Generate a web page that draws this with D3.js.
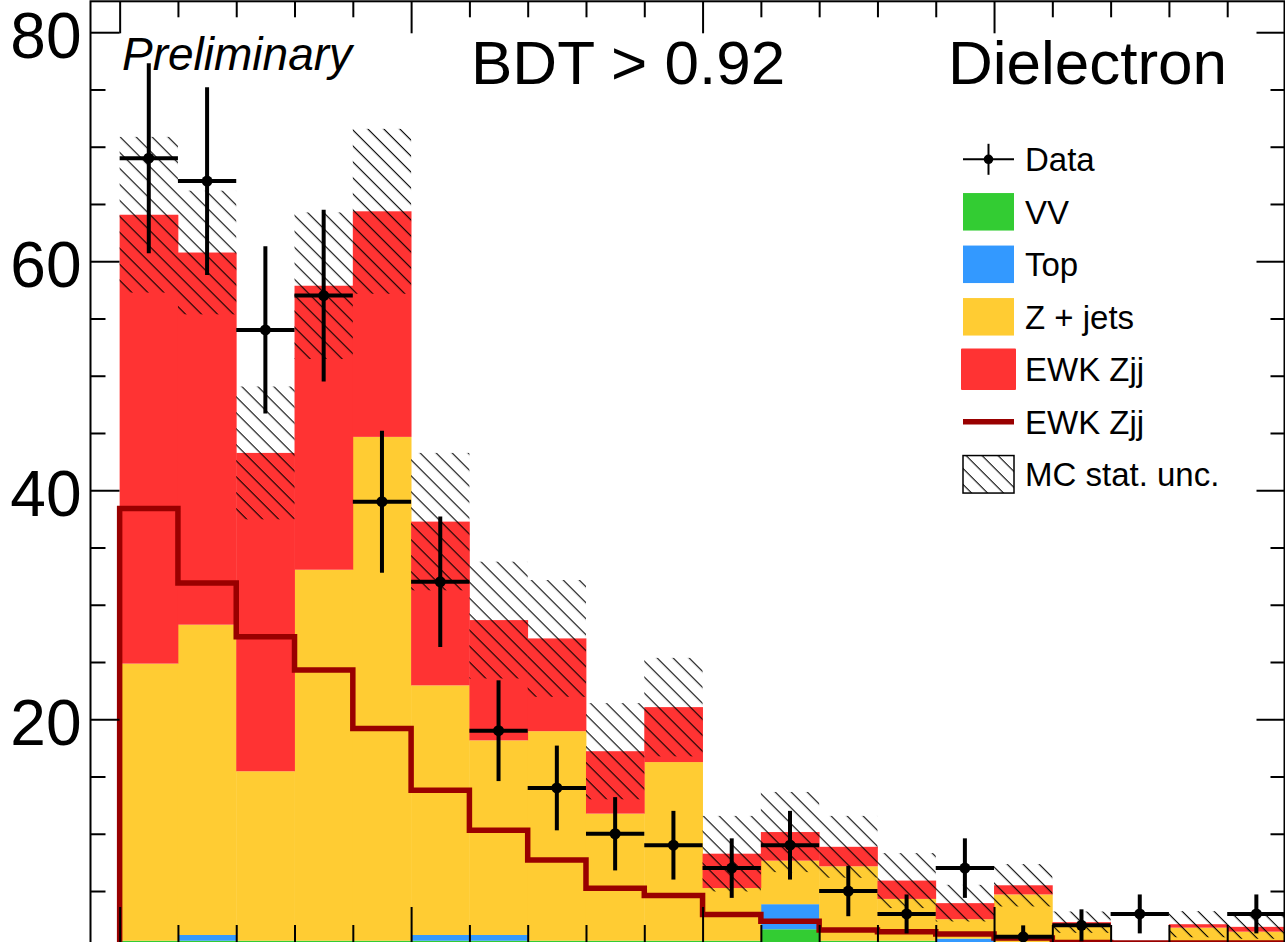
<!DOCTYPE html>
<html>
<head>
<meta charset="utf-8">
<script src="https://cdn.jsdelivr.net/npm/d3@7"></script>
<style>
  body { margin: 0; background: #fff; }
  svg { display: block; font-family: "Liberation Sans", Arial, sans-serif; }
</style>
</head>
<body>
<script>
// 20 bins, values
var dataCounts = [69, 67, 54, 57, 39, 32, 19, 14, 10, 9, 7, 9, 5, 3, 7, 1, 2, 3, 0, 3];
var dataErr    = [8.3, 8.2, 7.3, 7.5, 6.2, 5.7, 4.4, 3.7, 3.2, 3.0, 2.6, 3.0, 2.2, 1.7, 2.6, 1.0, 1.4, 1.7, 0, 1.7];

var vv     = [0.66, 0.66, 0.66, 0.66, 0.66, 0.66, 0.66, 0.66, 0.66, 0.66, 0.66, 1.66, 0.66, 0.66, 0, 0, 0, 0, 0, 0];
var topBkg = [0, 0.5, 0, 0, 0, 0.5, 0.5, 0, 0, 0, 0, 2.19, 0, 0, 0.84, 0, 0, 0, 0, 0];
var zjets  = [24.2, 27.1, 14.8, 32.4, 44.0, 21.8, 17.0, 18.3, 11.1, 15.6, 4.6, 3.8, 6.5, 3.65, 1.7, 4.7, 1.9, 0, 1.8, 1.45];
var ewk    = [39.2, 32.5, 27.8, 24.8, 19.7, 14.3, 10.5, 8.1, 5.45, 4.8, 3.0, 2.5, 1.7, 1.6, 1.4, 0.8, 0.38, 0, 0.3, 0.42];
var ewkLine = [38.4, 31.9, 27.2, 24.3, 19.2, 13.8, 10.3, 7.7, 5.25, 4.6, 2.95, 2.35, 1.6, 1.45, 1.25, 0.9, 0.5, 0, 0.3, 0.35];
var mcStat = [6.8, 5.4, 5.8, 6.4, 7.2, 6.0, 5.1, 5.1, 4.2, 4.3, 3.3, 3.5, 2.7, 2.4, 1.6, 1.85, 0.93, 0, 1.14, 1.04];

var yMajor = [20, 40, 60, 80];
var yMinor = [5, 10, 15, 25, 30, 35, 45, 50, 55, 65, 70, 75];
var xMajor = [0, 5, 10, 15];
var xMinor = [1, 2, 3, 4, 6, 7, 8, 9, 11, 12, 13, 14, 16, 17, 18, 19];

var legendLabels = ["Data", "VV", "Top", "Z + jets", "EWK Zjj", "EWK Zjj", "MC stat. unc."];

var colors = {vv: "#33cc33", top: "#3399ff", zjets: "#ffcc33", ewk: "#ff3333", line: "#990000"};

var w = 1285, h = 942;
var frame = {left: 90.5, right: 1284.5, top: 1.3, bottom: 943};
var yMin = 0.46, yMax = 82.7;
var bins = d3.range(dataCounts.length);

var svg = d3.select("body").append("svg")
  .attr("width", w)
  .attr("height", h);

var xScale = d3.scaleLinear()
  .domain([-0.5, 20])
  .range([frame.left, 1285.5]);

var yScale = d3.scaleLinear()
  .domain([yMin, yMax])
  .range([frame.bottom, frame.top])
  .clamp(true);

var defs = svg.append("defs");
defs.append("clipPath").attr("id", "plotclip")
  .append("rect")
  .attr("x", frame.left).attr("y", frame.top)
  .attr("width", frame.right - frame.left).attr("height", frame.bottom - frame.top);

// hatch for MC stat. unc.
var hatch = defs.append("pattern")
  .attr("id", "hatch")
  .attr("patternUnits", "userSpaceOnUse")
  .attr("width", 11.3).attr("height", 11.3)
  .attr("patternTransform", "rotate(45)");
hatch.append("line")
  .attr("x1", 0).attr("y1", 0.6).attr("x2", 11.3).attr("y2", 0.6)
  .attr("stroke", "#000").attr("stroke-width", 1.1);

var plot = svg.append("g").attr("clip-path", "url(#plotclip)");

// stacked backgrounds + signal
var table = bins.map(function(i) {
  return {vv: vv[i], top: topBkg[i], zjets: zjets[i], ewk: ewk[i]};
});
var stack = d3.stack().keys(["vv", "top", "zjets", "ewk"])(table);

stack.forEach(function(layer) {
  plot.append("g").selectAll("rect")
    .data(layer.map(function(d, i) { return {lo: d[0], hi: d[1], i: i}; })
               .filter(function(d) { return d.hi > d.lo; }))
    .enter()
    .append("rect")
    .attr("x", function(d) { return xScale(d.i); })
    .attr("width", function(d) { return xScale(d.i + 1) - xScale(d.i) + 0.4; })
    .attr("y", function(d) { return yScale(d.hi); })
    .attr("height", function(d) { return yScale(d.lo) - yScale(d.hi); })
    .attr("fill", colors[layer.key]);
});

// MC stat band
var totals = bins.map(function(i) { return vv[i] + topBkg[i] + zjets[i] + ewk[i]; });
plot.append("g").selectAll("rect")
  .data(bins.filter(function(i) { return mcStat[i] > 0; }))
  .enter()
  .append("rect")
  .attr("x", function(i) { return xScale(i); })
  .attr("width", function(i) { return xScale(i + 1) - xScale(i); })
  .attr("y", function(i) { return yScale(totals[i] + mcStat[i]); })
  .attr("height", function(i) { return yScale(totals[i] - mcStat[i]) - yScale(totals[i] + mcStat[i]); })
  .attr("fill", "url(#hatch)");

// EWK Zjj overlay line
var linePts = [[0, yMin]];
bins.forEach(function(i) {
  linePts.push([i, ewkLine[i]]);
  linePts.push([i + 1, ewkLine[i]]);
});
plot.append("path")
  .datum(linePts)
  .attr("d", d3.line().x(function(d) { return xScale(d[0]); }).y(function(d) { return yScale(d[1]); }))
  .attr("fill", "none")
  .attr("stroke", colors.line)
  .attr("stroke-width", 5.5)
  .attr("stroke-linejoin", "miter")
  .attr("stroke-linecap", "square");

// data points
var pts = plot.append("g").selectAll("g")
  .data(bins.filter(function(i) { return dataCounts[i] > 0; }))
  .enter()
  .append("g");
pts.append("line")
  .attr("x1", function(i) { return xScale(i); })
  .attr("x2", function(i) { return xScale(i + 1); })
  .attr("y1", function(i) { return yScale(dataCounts[i]); })
  .attr("y2", function(i) { return yScale(dataCounts[i]); })
  .attr("stroke", "#000").attr("stroke-width", 4);
pts.append("line")
  .attr("x1", function(i) { return xScale(i + 0.5); })
  .attr("x2", function(i) { return xScale(i + 0.5); })
  .attr("y1", function(i) { return yScale(dataCounts[i] - dataErr[i]); })
  .attr("y2", function(i) { return yScale(dataCounts[i] + dataErr[i]); })
  .attr("stroke", "#000").attr("stroke-width", 4);
pts.append("circle")
  .attr("cx", function(i) { return xScale(i + 0.5); })
  .attr("cy", function(i) { return yScale(dataCounts[i]); })
  .attr("r", 5.5)
  .attr("fill", "#000");

// frame and ticks
function styleAxis(g) {
  g.select(".domain").remove();
  g.selectAll(".tick line").attr("stroke", "#000").attr("stroke-width", 2);
}

svg.append("g").attr("transform", "translate(0," + frame.bottom + ")")
  .call(d3.axisBottom(xScale).tickValues(xMajor).tickSize(-36).tickFormat(""))
  .call(styleAxis);
svg.append("g").attr("transform", "translate(0," + frame.bottom + ")")
  .call(d3.axisBottom(xScale).tickValues(xMinor).tickSize(-18).tickFormat(""))
  .call(styleAxis);
svg.append("g").attr("transform", "translate(0," + frame.top + ")")
  .call(d3.axisTop(xScale).tickValues(xMajor).tickSize(-32).tickFormat(""))
  .call(styleAxis);
svg.append("g").attr("transform", "translate(0," + frame.top + ")")
  .call(d3.axisTop(xScale).tickValues(xMinor).tickSize(-16).tickFormat(""))
  .call(styleAxis);

var yAxisG = svg.append("g").attr("transform", "translate(" + frame.left + ",0)")
  .call(d3.axisLeft(yScale).tickValues(yMajor).tickSize(-29).tickPadding(9).tickFormat(d3.format("d")))
  .call(styleAxis);
yAxisG.selectAll("text")
  .attr("font-size", 64)
  .attr("font-family", "Liberation Sans, Arial, sans-serif")
  .attr("fill", "#000")
  .attr("dy", "0.4em");
svg.append("g").attr("transform", "translate(" + frame.left + ",0)")
  .call(d3.axisLeft(yScale).tickValues(yMinor).tickSize(-15).tickFormat(""))
  .call(styleAxis);
svg.append("g").attr("transform", "translate(" + frame.right + ",0)")
  .call(d3.axisRight(yScale).tickValues(yMajor).tickSize(-28).tickFormat(""))
  .call(styleAxis);
svg.append("g").attr("transform", "translate(" + frame.right + ",0)")
  .call(d3.axisRight(yScale).tickValues(yMinor).tickSize(-14).tickFormat(""))
  .call(styleAxis);

svg.append("rect")
  .attr("x", frame.left).attr("y", frame.top)
  .attr("width", frame.right - frame.left).attr("height", frame.bottom - frame.top)
  .attr("fill", "none").attr("stroke", "#000").attr("stroke-width", 2);

// labels
svg.append("text")
  .attr("x", 122).attr("y", 70)
  .attr("font-size", 46).attr("font-style", "italic")
  .text("Preliminary");
svg.append("text")
  .attr("x", 471).attr("y", 83.5)
  .attr("font-size", 62)
  .text("BDT > 0.92");
svg.append("text")
  .attr("x", 1227).attr("y", 83.5)
  .attr("text-anchor", "end")
  .attr("font-size", 62)
  .text("Dielectron");

// legend
var leg = svg.append("g");
var rowY = function(k) { return 159.3 + k * 52.5; };
var bx = 963, bw = 51, bh = 37.5;

leg.append("line").attr("x1", bx).attr("x2", bx + bw).attr("y1", rowY(0)).attr("y2", rowY(0))
  .attr("stroke", "#000").attr("stroke-width", 2);
leg.append("line").attr("x1", bx + bw / 2).attr("x2", bx + bw / 2).attr("y1", rowY(0) - 15.5).attr("y2", rowY(0) + 15.5)
  .attr("stroke", "#000").attr("stroke-width", 2);
leg.append("circle").attr("cx", bx + bw / 2).attr("cy", rowY(0)).attr("r", 4.8).attr("fill", "#000");

[colors.vv, colors.top, colors.zjets].forEach(function(c, k) {
  leg.append("rect").attr("x", bx).attr("y", rowY(k + 1) - bh / 2).attr("width", bw).attr("height", bh)
    .attr("fill", c);
});
leg.append("rect").attr("x", bx - 1).attr("y", rowY(4) - bh / 2 - 1).attr("width", bw + 2).attr("height", bh + 2)
  .attr("fill", colors.ewk).attr("stroke", colors.ewk).attr("stroke-width", 2).attr("stroke-linejoin", "round");
leg.append("line").attr("x1", bx).attr("x2", bx + bw).attr("y1", rowY(5)).attr("y2", rowY(5))
  .attr("stroke", colors.line).attr("stroke-width", 5.5);
leg.append("rect").attr("x", bx).attr("y", rowY(6) - bh / 2).attr("width", bw).attr("height", bh)
  .attr("fill", "#fff");
leg.append("rect").attr("x", bx).attr("y", rowY(6) - bh / 2).attr("width", bw).attr("height", bh)
  .attr("fill", "url(#hatch)").attr("stroke", "#000").attr("stroke-width", 1.5);

leg.selectAll("text.lab")
  .data(legendLabels)
  .enter()
  .append("text")
  .attr("class", "lab")
  .attr("x", 1025)
  .attr("y", function(d, k) { return rowY(k) + 12; })
  .attr("font-size", 33)
  .text(function(d) { return d; });
</script>
</body>
</html>
